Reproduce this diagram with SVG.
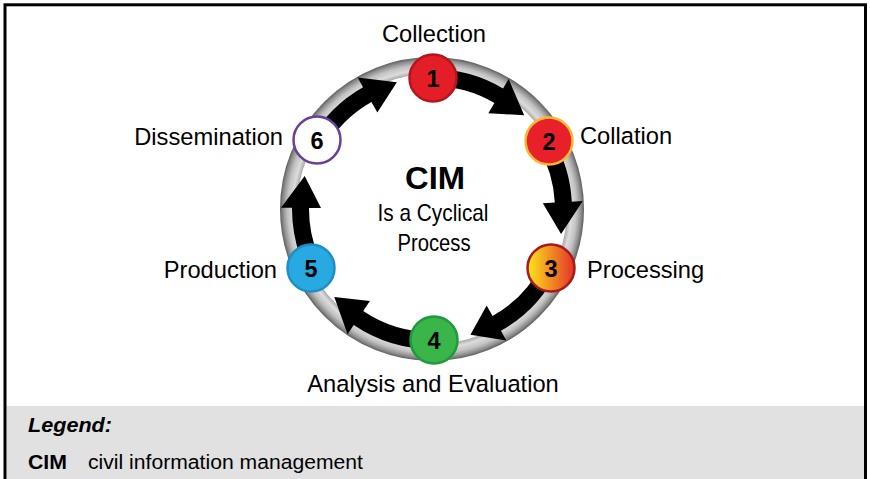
<svg xmlns="http://www.w3.org/2000/svg" width="870" height="479" viewBox="0 0 870 479">
<style>
.lbl{font-family:"Liberation Sans",Arial,sans-serif;font-size:23.7px;fill:#000}
.num{font-family:"Liberation Sans",Arial,sans-serif;font-size:23.5px;font-weight:bold;fill:#000;text-anchor:middle}
.ctr{font-family:"Liberation Sans",Arial,sans-serif;fill:#000;text-anchor:middle}
.leg{font-family:"Liberation Sans",Arial,sans-serif;font-size:19.5px;fill:#000}
.arrow{fill:#000}
.node circle{stroke-width:2.5}
</style>
<defs>
<radialGradient id="ringGrad" gradientUnits="userSpaceOnUse" cx="432" cy="209" r="152">
<stop offset="0.885" stop-color="#a4a4a4"/>
<stop offset="0.915" stop-color="#dcdcdc"/>
<stop offset="0.95" stop-color="#c2c2c2"/>
<stop offset="0.98" stop-color="#8e8e8e"/>
<stop offset="1" stop-color="#5e5e5e"/>
</radialGradient>
<linearGradient id="g3" x1="0" y1="0" x2="1" y2="0">
<stop offset="0" stop-color="#fde61c"/>
<stop offset="1" stop-color="#e4322a"/>
</linearGradient>
</defs>
<rect x="0" y="0" width="870" height="479" fill="#fff"/>
<rect x="6.5" y="406" width="858.5" height="80" fill="#e0e1e0"/>
<rect x="5" y="4.8" width="860.5" height="500" fill="none" stroke="#000" stroke-width="3"/>

<circle cx="432" cy="209" r="143.5" fill="none" stroke="url(#ringGrad)" stroke-width="17"/>

<g id="connectors">
<path class="arrow" d="M432,69 A140,140 0 0 1 503.05,88.38 L508.63,78.9 L524.17,115.2 L488.33,113.36 L494.42,103.02 A123,123 0 0 0 432,86 Z"/>
<path class="arrow" d="M553.24,139 A140,140 0 0 1 571.8,201.68 L582.79,201.1 L561.08,234.09 L542.84,203.19 L554.83,202.57 A123,123 0 0 0 538.52,147.5 Z"/>
<path class="arrow" d="M557.29,271.47 A140,140 0 0 1 500.94,330.86 L506.35,340.43 L470.45,334.75 L486.66,305.61 L492.57,316.06 A123,123 0 0 0 542.07,263.88 Z"/>
<path class="arrow" d="M432,349 A140,140 0 0 1 353.71,325.06 L347.56,334.18 L334.28,296.99 L369.93,301.02 L363.22,310.97 A123,123 0 0 0 432,332 Z"/>
<path class="arrow" d="M306.71,271.47 A140,140 0 0 1 292.01,207.78 L281.01,207.69 L304.7,176.07 L321,208.03 L309,207.93 A123,123 0 0 0 321.93,263.88 Z"/>
<path class="arrow" d="M310.76,139 A140,140 0 0 1 363.06,87.14 L357.65,77.57 L396.86,82.29 L377.34,112.39 L371.43,101.94 A123,123 0 0 0 325.48,147.5 Z"/>
</g>

<g id="node1" class="node">
<circle cx="433" cy="78" r="23.5" fill="#e31e26" stroke="#b3161d"/>
<text class="num" x="433" y="86.5">1</text>
<text class="lbl" x="434" y="42" text-anchor="middle">Collection</text>
</g>
<g id="node2" class="node">
<circle cx="549" cy="141" r="23.5" fill="#e8202a" stroke="#f7b733"/>
<text class="num" x="549" y="149.5">2</text>
<text class="lbl" x="580" y="144">Collation</text>
</g>
<g id="node3" class="node">
<circle cx="551" cy="268" r="23.5" fill="url(#g3)" stroke="#a81a1e"/>
<text class="num" x="551" y="276.5">3</text>
<text class="lbl" x="587" y="278">Processing</text>
</g>
<g id="node4" class="node">
<circle cx="434" cy="340" r="23.5" fill="#39b54a" stroke="#1f9a3e"/>
<text class="num" x="434" y="348.5">4</text>
<text class="lbl" x="433" y="392" text-anchor="middle">Analysis and Evaluation</text>
</g>
<g id="node5" class="node">
<circle cx="311" cy="268" r="23.5" fill="#29a9e1" stroke="#1d8fc6"/>
<text class="num" x="311" y="276.5">5</text>
<text class="lbl" x="277" y="278" text-anchor="end">Production</text>
</g>
<g id="node6" class="node">
<circle cx="317" cy="140" r="23.5" fill="#fff" stroke="#6b3f98"/>
<text class="num" x="317" y="148.5">6</text>
<text class="lbl" x="283" y="145" text-anchor="end">Dissemination</text>
</g>

<g id="center">
<text class="ctr" x="435" y="189" font-size="31" font-weight="bold" textLength="60" lengthAdjust="spacingAndGlyphs">CIM</text>
<text class="ctr" x="433" y="221" font-size="24" textLength="111" lengthAdjust="spacingAndGlyphs">Is a Cyclical</text>
<text class="ctr" x="434" y="251" font-size="24" textLength="73" lengthAdjust="spacingAndGlyphs">Process</text>
</g>

<g id="legend">
<text class="leg" x="28" y="432" font-weight="bold" font-style="italic" textLength="84" lengthAdjust="spacingAndGlyphs">Legend:</text>
<text class="leg" x="28" y="469" font-weight="bold" textLength="39" lengthAdjust="spacingAndGlyphs">CIM</text>
<text class="leg" x="88" y="469" textLength="275" lengthAdjust="spacingAndGlyphs">civil information management</text>
</g>
</svg>
